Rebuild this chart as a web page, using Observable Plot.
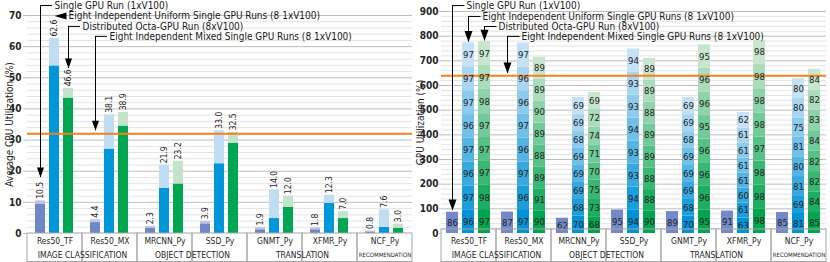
<!DOCTYPE html>
<html><head><meta charset="utf-8">
<script src="https://cdn.jsdelivr.net/npm/d3@7"></script>
<script src="https://cdn.jsdelivr.net/npm/@observablehq/plot@0.6"></script>
<style>
html,body{margin:0;padding:0;background:#fff;}
#wrap{display:flex;width:830px;height:262px;overflow:hidden;}
#wrap svg{flex:none;overflow:visible;}
</style></head><body><div id="wrap"></div>
<script>
// ---------- categories ----------
const categories = ["Res50_TF","Res50_MX","MRCNN_Py","SSD_Py","GNMT_Py","XFMR_Py","NCF_Py"];
const groupNames = ["IMAGE CLASSIFICATION","OBJECT DETECTION","TRANSLATION","RECOMMENDATION"];
const groupFirst = ["Res50_TF","MRCNN_Py","GNMT_Py","NCF_Py"];
const groupSpan  = [2,2,2,1];
const seriesKeys = ["single","uniform","distributed"];
const legendLabels = ["Single GPU Run (1xV100)","Eight Independent Uniform Single GPU Runs (8 1xV100)","Distributed Octa-GPU Run (8xV100)","Eight Independent Mixed Single GPU Runs (8 1xV100)"];

// ---------- CPU utilization (%) ----------
const cpuSingle          = [10.5, 4.4, 2.3, 3.9, 1.9, 1.8, 0.8];
const cpuSingleBase      = [9.5, 3.5, 1.7, 3.1, 1.2, 1.2, 0.5];
const cpuUniform         = [62.6, 38.1, 21.9, 33.0, 14.0, 12.3, 7.6];
const cpuUniformBase     = [53.8, 27.1, 14.5, 22.4, 4.8, 9.7, 2.0];
const cpuDistributed     = [46.6, 38.9, 23.2, 32.5, 12.0, 7.0, 3.0];
const cpuDistributedBase = [43.5, 34.5, 15.9, 28.9, 8.4, 4.8, 1.7];
const cpuReference = 32;
const cpuTicks = [0,10,20,30,40,50,60,70];

// ---------- GPU utilization (%) : per-GPU values, bottom to top ----------
const gpuSingle = [86, 87, 62, 95, 89, 91, 85];
const gpuUniform = [
  [96,97,96,97,96,97,97,97],
  [97,96,97,96,97,96,96,97],
  [70,68,69,69,69,68,69,69],
  [94,94,93,93,94,93,93,94],
  [70,68,69,69,69,68,69,69],
  [63,61,60,61,61,61,61,62],
  [81,69,81,80,81,75,80,80]
];
const gpuDistributed = [
  [97,98,97,97,97,98,97,97],
  [90,91,89,88,89,90,89,89],
  [68,73,75,70,71,74,72,69],
  [90,88,88,89,89,88,89,89],
  [95,96,96,96,95,96,96,95],
  [98,98,98,97,98,98,98,98],
  [85,84,82,82,84,83,82,84]
];
const gpuReference = 640;
const gpuTicks = [0,100,200,300,400,500,600,700,800,900];

// ---------- styling ----------
const FONT = "'Liberation Sans Narrow','DejaVu Sans Condensed',Lato,sans-serif";
const singleColors = ["#6F87C6","#BCC6E6"];
const uniformColors = ["#0096DA","#BFDDF3"];
const distColors = ["#00A651","#C4E3CB"];
const blueShades = d3.quantize(d3.interpolateRgb("#0093D7","#C4E1F5"), 8);
const greenShades = d3.quantize(d3.interpolateRgb("#00A54F","#C8E6CE"), 8);
const gridMinor = "#E3E3E3", gridMajor = "#BDBDBD", orange = "#F4811F", tableStroke = "#A6A6A6", ink = "#262626";

const arrowDown = (w,h) => ({draw(ctx){ctx.moveTo(0,0);ctx.lineTo(-w/2,-h);ctx.lineTo(w/2,-h);ctx.closePath();}});
const arrowLeft = (w,h) => ({draw(ctx){ctx.moveTo(0,0);ctx.lineTo(w,-h/2);ctx.lineTo(w,h/2);ctx.closePath();}});

const groupRows = groupNames.map((name,i)=>({name, first: groupFirst[i], span: groupSpan[i]}));

function tableMarks(){
  return [
    Plot.rect(categories, {fx: d=>d, insetTop: 218, insetBottom: -28.5, fill: "none", stroke: tableStroke}),
    Plot.text(categories, {fx: d=>d, text: d=>d, frameAnchor: "bottom", lineAnchor: "middle", dy: 8, fontSize: 8.5, fill: ink}),
    Plot.text(groupRows.filter(d=>d.span===2), {fx: "first", text: "name", frameAnchor: "bottom-right", textAnchor: "middle", lineAnchor: "middle", dy: 22, fontSize: 8.5, fill: ink}),
    Plot.text(groupRows.filter(d=>d.span===1), {fx: "first", text: "name", frameAnchor: "bottom", textAnchor: "middle", lineAnchor: "middle", dy: 22, fontSize: 6, fill: ink})
  ];
}

function axisMarks(ticks, label, labelOffset, tickSize, tickPadding){
  return [
    Plot.axisY({ticks, tickSize, tickPadding, stroke: gridMajor, fill: ink, fontWeight: "bold", fontSize: 10, label: null}),
    Plot.axisY({ticks: [], label, labelAnchor: "center", labelOffset, labelArrow: "none", fill: ink, fontSize: 10})
  ];
}

// ---------- left chart: CPU ----------
const cpuRows = categories.flatMap((cat,i)=>[
  {cat, s:"single", base: cpuSingleBase[i], total: cpuSingle[i], c: singleColors},
  {cat, s:"uniform", base: cpuUniformBase[i], total: cpuUniform[i], c: uniformColors},
  {cat, s:"distributed", base: cpuDistributedBase[i], total: cpuDistributed[i], c: distColors}
]);

// legend call-outs: anchored on a series band, heights in data units
const cpuCallouts = [
  {label: legendLabels[0], fx:"Res50_TF", s:"single", top:73.2, tip:18.0, kind:"down"},
  {label: legendLabels[1], fx:"Res50_TF", s:"uniform", top:69.8, tip:null, kind:"left"},
  {label: legendLabels[2], fx:"Res50_TF", s:"distributed", top:66.5, tip:53.0, kind:"down"},
  {label: legendLabels[3], fx:"Res50_MX", s:"single", top:63.3, tip:33.0, kind:"down"}
];
const downCpu = cpuCallouts.filter(d=>d.kind==="down");

const left = Plot.plot({
  width: 413, height: 262, marginLeft: 25, marginRight: 0, marginTop: 15, marginBottom: 29,
  style: {fontFamily: FONT, fontSize: "10px", background: "transparent", overflow: "visible"},
  fx: {domain: categories, padding: 0, axis: null},
  x: {domain: seriesKeys, paddingInner: 0.27, paddingOuter: 0.48, axis: null},
  y: {domain: [0,70]},
  marks: [
    Plot.ruleY(d3.range(0,71,2).filter(v=>v%10), {stroke: gridMinor}),
    Plot.ruleY(cpuTicks.filter(v=>v>0), {stroke: gridMajor}),
    ...axisMarks(cpuTicks, "Average CPU Utilization (%)", 22, 4, 2),
    Plot.barY(cpuRows, {fx:"cat", x:"s", y1: 0, y2:"base", fill: d=>d.c[0]}),
    Plot.barY(cpuRows, {fx:"cat", x:"s", y1:"base", y2:"total", fill: d=>d.c[1]}),
    Plot.ruleY([cpuReference], {stroke: orange, strokeWidth: 2}),
    Plot.text(cpuRows, {fx:"cat", x:"s", y:"total", text: d=>d.total.toFixed(1), rotate: -90, textAnchor: "start", dy: -2, fontSize: 8.5, fill: ink}),
    ...tableMarks(),
    Plot.ruleX(downCpu, {fx:"fx", x:"s", y1:"top", y2:"tip", stroke:"#000"}),
    Plot.ruleY(downCpu, {fx:"fx", x1:"s", x2:"s", y:"top", insetLeft: 5.5, insetRight: -7, stroke:"#000"}),
    Plot.dot(downCpu, {fx:"fx", x:"s", y:"tip", symbol: arrowDown(7,10), fill:"#000", stroke:"none"}),
    Plot.dot(cpuCallouts.filter(d=>d.kind==="left"), {fx:"fx", x:"s", y:"top", symbol: arrowLeft(12,7), fill:"#000", stroke:"none"}),
    Plot.text(cpuCallouts, {fx:"fx", x:"s", y:"top", text:"label", textAnchor:"start", fontSize: 10, fill:"#1a1a1a", dx: 14})
  ]
});

// ---------- right chart: GPU ----------
const gpuRows = [];
categories.forEach((cat,i)=>{
  gpuRows.push({cat, s:"single", v: gpuSingle[i], fill: "#7389C8"});
  gpuUniform[i].forEach((v,k)=>gpuRows.push({cat, s:"uniform", v, fill: blueShades[k]}));
  gpuDistributed[i].forEach((v,k)=>gpuRows.push({cat, s:"distributed", v, fill: greenShades[k]}));
});

const gpuCallouts = [
  {label: legendLabels[0], fx:"Res50_TF", s:"single", top:924, tip:93},
  {label: legendLabels[1], fx:"Res50_TF", s:"uniform", top:880, tip:776},
  {label: legendLabels[2], fx:"Res50_TF", s:"distributed", top:839, tip:781},
  {label: legendLabels[3], fx:"Res50_MX", s:"single", top:799, tip:649}
];

const right = Plot.plot({
  width: 417, height: 262, marginLeft: 25, marginRight: 1, marginTop: 11, marginBottom: 29,
  style: {fontFamily: FONT, fontSize: "10px", background: "transparent", overflow: "visible"},
  fx: {domain: categories, padding: 0, axis: null},
  x: {domain: seriesKeys, paddingInner: 0.24, paddingOuter: 0.32, axis: null},
  y: {domain: [0,900]},
  marks: [
    Plot.ruleY(d3.range(0,901,20).filter(v=>v%100), {stroke: gridMinor}),
    Plot.ruleY(gpuTicks.filter(v=>v>0), {stroke: gridMajor}),
    ...axisMarks(gpuTicks, "GPU Utilization (%)", 25, 2, 1),
    Plot.barY(gpuRows, Plot.stackY({fx:"cat", x:"s", y:"v", fill:"fill"})),
    Plot.ruleY([gpuReference], {stroke: orange, strokeWidth: 2}),
    Plot.text(gpuRows, Plot.stackY({fx:"cat", x:"s", y:"v", text: d=>String(d.v), fontSize: 9.5, fill:"#222"})),
    ...tableMarks(),
    Plot.ruleX(gpuCallouts, {fx:"fx", x:"s", y1:"top", y2:"tip", stroke:"#000"}),
    Plot.ruleY(gpuCallouts, {fx:"fx", x1:"s", x2:"s", y:"top", insetLeft: 6.2, insetRight: -6.5, stroke:"#000"}),
    Plot.dot(gpuCallouts, {fx:"fx", x:"s", y:"tip", symbol: arrowDown(8,11), fill:"#000", stroke:"none"}),
    Plot.text(gpuCallouts, {fx:"fx", x:"s", y:"top", text:"label", textAnchor:"start", fontSize: 10, fill:"#1a1a1a", dx: 14})
  ]
});

document.getElementById("wrap").append(left, right);
</script>
</body></html>
